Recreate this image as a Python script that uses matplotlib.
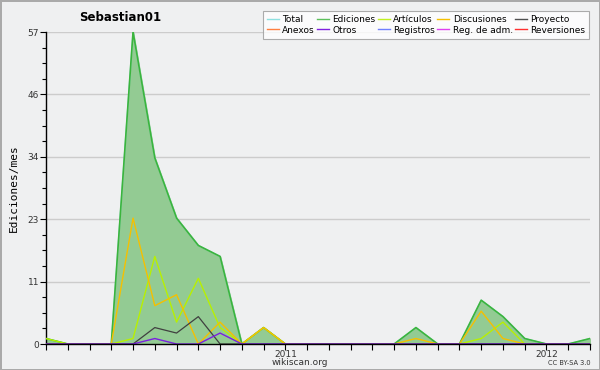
import numpy as np
import matplotlib
matplotlib.use("Agg")
import matplotlib.pyplot as plt
from matplotlib.lines import Line2D

# meses de feb 2010 a mar 2012
months = list(range(26))
year_ticks = [11, 23]
year_labels = ["2011", "2012"]

total =       [1, 0, 0, 0, 57, 34, 23, 18, 16, 0, 3, 0, 0, 0, 0, 0, 0, 3, 0, 0, 8, 5, 1, 0, 0, 1]
ediciones =   [1, 0, 0, 0, 57, 34, 23, 18, 16, 0, 3, 0, 0, 0, 0, 0, 0, 3, 0, 0, 8, 5, 1, 0, 0, 1]
articulos =   [1, 0, 0, 0, 1, 16, 4, 12, 3, 0, 3, 0, 0, 0, 0, 0, 0, 0, 0, 0, 1, 4, 0, 0, 0, 0]
discusiones = [0, 0, 0, 0, 23, 7, 9, 0, 4, 0, 3, 0, 0, 0, 0, 0, 0, 1, 0, 0, 6, 1, 0, 0, 0, 0]
proyecto =    [0, 0, 0, 0, 0, 3, 2, 5, 0, 0, 0, 0, 0, 0, 0, 0, 0, 0, 0, 0, 0, 0, 0, 0, 0, 0]
otros =       [0, 0, 0, 0, 0, 1, 0, 0, 2, 0, 0, 0, 0, 0, 0, 0, 0, 0, 0, 0, 0, 0, 0, 0, 0, 0]

bg = "#eff0f1"
fig = plt.figure(figsize=(6, 3.7), dpi=100, facecolor=bg, edgecolor="#aaaaaa", linewidth=2)
ax = fig.add_axes([46/600, 26/370, 544/600, 312/370])
ax.set_facecolor(bg)

ax.fill_between(months, total, color="#93cb93", zorder=1)
ax.plot(months, total, color="#8ee0e0", lw=1, zorder=2)
ax.plot(months, ediciones, color="#3cb43c", lw=1.2, zorder=3)
ax.plot(months, articulos, color="#b8f000", lw=1, zorder=4)
ax.plot(months, discusiones, color="#f5c000", lw=1, zorder=5)
ax.plot(months, proyecto, color="#404040", lw=0.9, zorder=6)
ax.plot(months, otros, color="#7a20e0", lw=1, zorder=7)

ax.set_xlim(0, 25)
ax.set_ylim(0, 57)
ax.set_xticks(months)
ax.set_xticklabels(["" if m not in year_ticks else year_labels[year_ticks.index(m)] for m in months])
ax.set_yticks(np.linspace(0, 57, 6))
ax.set_yticklabels(["%d" % round(v) for v in np.linspace(0, 57, 6)])
ax.set_yticks(np.arange(0, 57.01, 57/20), minor=True)
ax.tick_params(axis="both", labelsize=6.5, colors="black", length=4, width=0.8, pad=1, labelcolor="#333333")
ax.tick_params(axis="x", pad=0)
ax.tick_params(axis="y", which="minor", length=3, width=0.8)
ax.grid(axis="y", color="#cccccc", lw=1)
ax.set_axisbelow(True)
for s in ["top", "right"]:
    ax.spines[s].set_visible(False)
ax.spines["left"].set_linewidth(1)
ax.spines["bottom"].set_linewidth(1)
ax.spines["bottom"].set_zorder(10)

ax.set_ylabel("Ediciones/mes", fontsize=8, family="DejaVu Sans Mono", labelpad=6)
fig.text(0.20, 0.953, "Sebastian01", fontsize=8.5, fontweight="bold", ha="center", va="center")
fig.text(0.5, 0.02, "wikiscan.org", fontsize=6.5, ha="center", va="center", color="#333333")
fig.text(0.985, 0.02, "CC BY-SA 3.0", fontsize=4.8, ha="right", va="center", color="#333333")

names = ["Total", "Anexos", "Ediciones", "Otros", "Artículos", "Registros",
         "Discusiones", "Reg. de adm.", "Proyecto", "Reversiones"]
colors = ["#8ee0e0", "#ff8040", "#5cc05c", "#8020e0", "#c0f020", "#7080ff",
          "#f5c000", "#e040f0", "#505050", "#ff3030"]
handles = [Line2D([], [], color=c, lw=1) for c in colors]
leg = fig.legend(handles, names, ncol=5, loc="upper right", bbox_to_anchor=(0.99, 0.982),
                 fontsize=6.5, frameon=True, fancybox=False, edgecolor="#999999",
                 handlelength=1.3, handletextpad=0.4, columnspacing=0.25,
                 labelspacing=0.15, borderpad=0.45)
leg.get_frame().set_linewidth(0.8)

fig.savefig("out.png", dpi=100, facecolor=bg, edgecolor="#aaaaaa")
